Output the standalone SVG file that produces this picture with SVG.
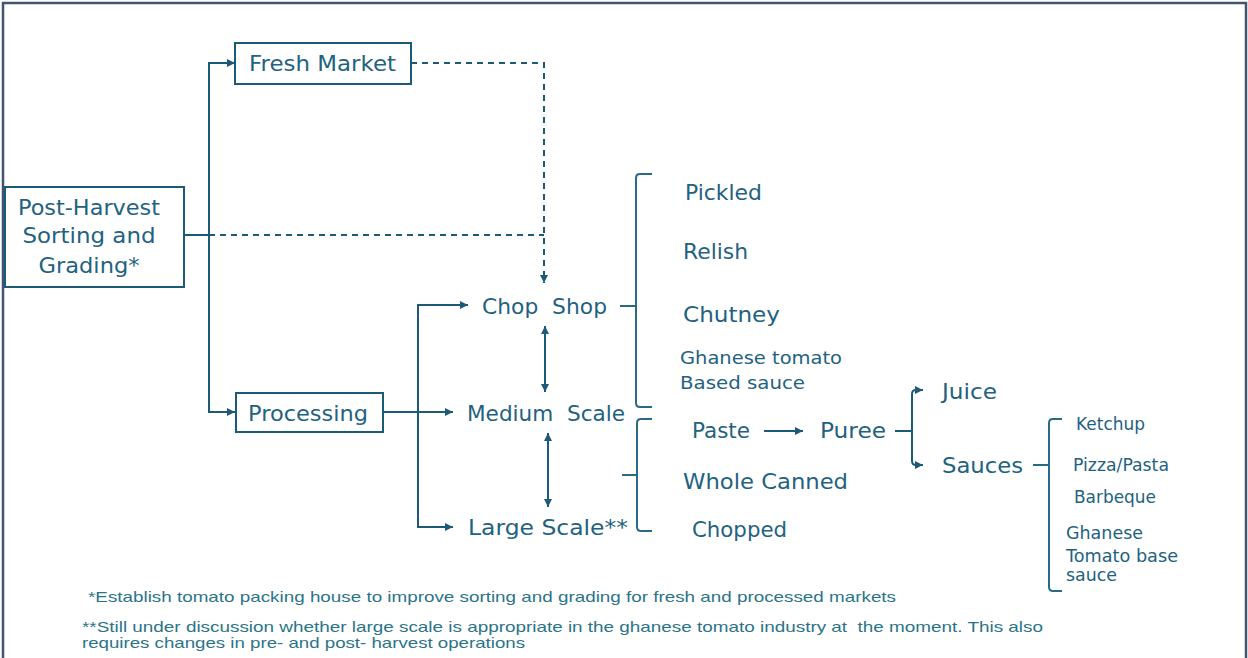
<svg xmlns="http://www.w3.org/2000/svg" width="1248" height="658" viewBox="0 0 1248 658">
  <defs>
    <marker id="arrow" viewBox="0 0 10 10" refX="10" refY="5" markerWidth="9" markerHeight="8" markerUnits="userSpaceOnUse" orient="auto-start-reverse">
      <path d="M0,0 L10,5 L0,10 Z" fill="#1d5a78"/>
    </marker>
    <style>
      .box { fill: #ffffff; stroke: #1d5a78; stroke-width: 2; }
      .ln { fill: none; stroke: #1d5a78; stroke-width: 2; }
      .dash { fill: none; stroke: #1d5a78; stroke-width: 2; stroke-dasharray: 6 5; }
      .brace { fill: none; stroke: #2a6a86; stroke-width: 2; }
      .lbl { font-family: "DejaVu Sans", Verdana, sans-serif; font-size: 22px; fill: #23627f; }
      .sm { font-family: "DejaVu Sans", Verdana, sans-serif; font-size: 17px; fill: #23627f; }
      .note { font-family: "Liberation Sans", Arial, sans-serif; font-size: 15px; fill: #2b7488; }
    </style>
  </defs>

  <!-- outer frame -->
  <rect x="3" y="3" width="1243" height="690" fill="#ffffff" stroke="#44536f" stroke-width="2.5"/>

  <!-- connectors -->
  <g id="connectors">
    <path class="ln" d="M184,235 H209"/>
    <path class="ln" d="M235,63 H209 V412 H235" marker-start="url(#arrow)" marker-end="url(#arrow)"/>
    <path class="dash" d="M209,235 H544"/>
    <path class="dash" d="M411,63 H544 V283" marker-end="url(#arrow)"/>
    <path class="ln" d="M383,412 H453" marker-end="url(#arrow)"/>
    <path class="ln" d="M468,305 H418 V527 H453" marker-start="url(#arrow)" marker-end="url(#arrow)"/>
    <path class="ln" d="M545,326 V392" marker-start="url(#arrow)" marker-end="url(#arrow)"/>
    <path class="ln" d="M548,433 V507" marker-start="url(#arrow)" marker-end="url(#arrow)"/>
    <path class="ln" d="M764,431 H803" marker-end="url(#arrow)"/>
    <path class="ln" d="M895,431 H912"/>
    <path class="ln" d="M923,390 H916 Q912,390 912,394 V461 Q912,465 916,465 H923" marker-start="url(#arrow)" marker-end="url(#arrow)"/>
    <!-- braces -->
    <path class="brace" d="M652,174 H640 Q636,174 636,178 V403 Q636,407 640,407 H652"/>
    <path class="brace" d="M620,306 H636"/>
    <path class="brace" d="M652,419 H641 Q637,419 637,423 V527 Q637,531 641,531 H652"/>
    <path class="brace" d="M622,475 H637"/>
    <path class="brace" d="M1062,419 H1053 Q1049,419 1049,423 V587 Q1049,591 1053,591 H1062"/>
    <path class="brace" d="M1033,465 H1049"/>
  </g>

  <g id="post-harvest">
    <rect class="box" x="5" y="187" width="179" height="100"/>
    <text class="lbl" x="89" y="215" text-anchor="middle" textLength="142" lengthAdjust="spacingAndGlyphs">Post-Harvest</text>
    <text class="lbl" x="89" y="243" text-anchor="middle" textLength="133" lengthAdjust="spacingAndGlyphs">Sorting and</text>
    <text class="lbl" x="89" y="273" text-anchor="middle" textLength="101" lengthAdjust="spacingAndGlyphs">Grading*</text>
  </g>

  <g id="fresh-market">
    <rect class="box" x="235" y="43" width="176" height="41"/>
    <text class="lbl" x="249" y="71" textLength="147" lengthAdjust="spacingAndGlyphs">Fresh Market</text>
  </g>

  <g id="processing">
    <rect class="box" x="236" y="393" width="147" height="39"/>
    <text class="lbl" x="248" y="421" textLength="120" lengthAdjust="spacingAndGlyphs">Processing</text>
  </g>

  <g id="chop-shop">
    <text class="lbl" x="482" y="314" textLength="125" lengthAdjust="spacingAndGlyphs" xml:space="preserve">Chop  Shop</text>
  </g>
  <g id="medium-scale">
    <text class="lbl" x="467" y="421" textLength="158" lengthAdjust="spacingAndGlyphs" xml:space="preserve">Medium  Scale</text>
  </g>
  <g id="large-scale">
    <text class="lbl" x="468" y="535" textLength="160" lengthAdjust="spacingAndGlyphs">Large Scale**</text>
  </g>

  <g id="chop-shop-products">
    <text class="lbl" x="685" y="200" textLength="77" lengthAdjust="spacingAndGlyphs">Pickled</text>
    <text class="lbl" x="683" y="259" textLength="65" lengthAdjust="spacingAndGlyphs">Relish</text>
    <text class="lbl" x="683" y="322" textLength="97" lengthAdjust="spacingAndGlyphs">Chutney</text>
    <text class="sm" x="680" y="364" textLength="162" lengthAdjust="spacingAndGlyphs">Ghanese tomato</text>
    <text class="sm" x="680" y="389" textLength="125" lengthAdjust="spacingAndGlyphs">Based sauce</text>
  </g>

  <g id="paste">
    <text class="lbl" x="692" y="438" textLength="58" lengthAdjust="spacingAndGlyphs">Paste</text>
  </g>
  <g id="puree">
    <text class="lbl" x="820" y="438" textLength="66" lengthAdjust="spacingAndGlyphs">Puree</text>
  </g>
  <g id="whole-canned">
    <text class="lbl" x="683" y="489" textLength="165" lengthAdjust="spacingAndGlyphs">Whole Canned</text>
  </g>
  <g id="chopped">
    <text class="lbl" x="692" y="537" textLength="95" lengthAdjust="spacingAndGlyphs">Chopped</text>
  </g>
  <g id="juice">
    <text class="lbl" x="942" y="399" textLength="55" lengthAdjust="spacingAndGlyphs">Juice</text>
  </g>
  <g id="sauces">
    <text class="lbl" x="942" y="473" textLength="81" lengthAdjust="spacingAndGlyphs">Sauces</text>
  </g>

  <g id="sauce-products">
    <text class="sm" x="1076" y="430" textLength="69" lengthAdjust="spacingAndGlyphs">Ketchup</text>
    <text class="sm" x="1073" y="471" textLength="96" lengthAdjust="spacingAndGlyphs">Pizza/Pasta</text>
    <text class="sm" x="1074" y="503" textLength="82" lengthAdjust="spacingAndGlyphs">Barbeque</text>
    <text class="sm" x="1066" y="539" textLength="77" lengthAdjust="spacingAndGlyphs">Ghanese</text>
    <text class="sm" x="1066" y="562" textLength="112" lengthAdjust="spacingAndGlyphs">Tomato base</text>
    <text class="sm" x="1066" y="581" textLength="51" lengthAdjust="spacingAndGlyphs">sauce</text>
  </g>

  <g id="notes">
    <text class="note" x="88" y="602" textLength="808" lengthAdjust="spacingAndGlyphs">*Establish tomato packing house to improve sorting and grading for fresh and processed markets</text>
    <text class="note" x="82" y="632" textLength="961" lengthAdjust="spacingAndGlyphs" xml:space="preserve">**Still under discussion whether large scale is appropriate in the ghanese tomato industry at  the moment. This also</text>
    <text class="note" x="82" y="648" textLength="443" lengthAdjust="spacingAndGlyphs">requires changes in pre- and post- harvest operations</text>
  </g>
</svg>
